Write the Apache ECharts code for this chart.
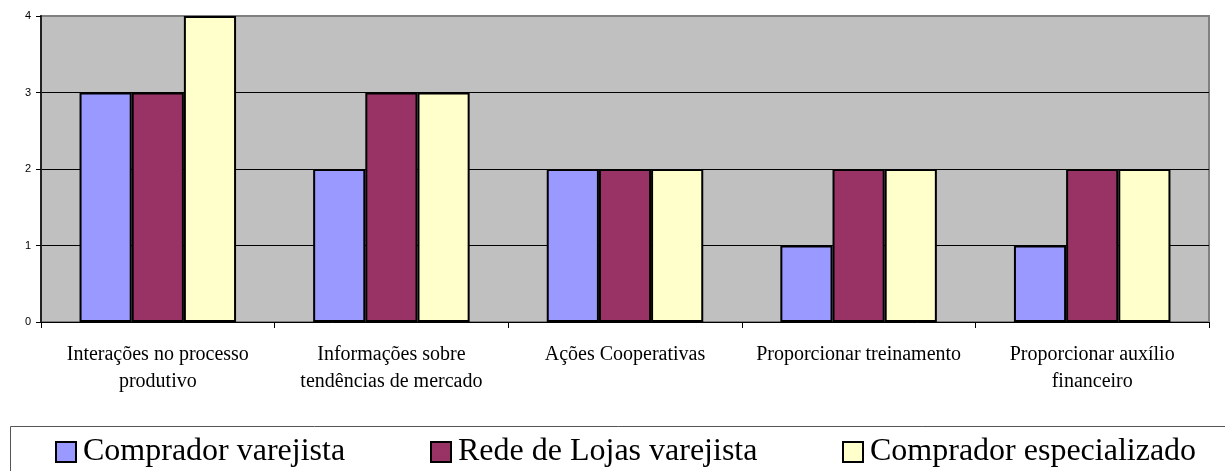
<!DOCTYPE html>
<html>
<head>
<meta charset="utf-8">
<script src="https://cdn.jsdelivr.net/npm/echarts@6/dist/echarts.min.js"></script>
<style>
  html, body { margin: 0; padding: 0; background: #fff; }
  #chart { width: 1225px; height: 471px; }
</style>
</head>
<body>
<div id="chart"></div>
<script>
const categories = [
  'Interações no processo\nprodutivo',
  'Informações sobre\ntendências de mercado',
  'Ações Cooperativas',
  'Proporcionar treinamento',
  'Proporcionar auxílio\nfinanceiro'
]
const seriesNames = ['Comprador varejista', 'Rede de Lojas varejista', 'Comprador especializado']
const compradorVarejista = [3, 2, 2, 1, 1]
const redeLojas = [3, 3, 2, 2, 2]
const compradorEspecializado = [4, 3, 2, 2, 2]
const colors = ['#9999FF', '#993366', '#FFFFCC']

const chart = echarts.init(document.getElementById('chart'))

const serif = "'Liberation Serif', 'Times New Roman', serif"

// one legend per item so each sits where the original puts it
function legendAt(name, left) {
  return {
    data: [name],
    left: left,
    top: 436,
    padding: 0,
    icon: 'rect',
    itemWidth: 20,
    itemHeight: 20,
    itemStyle: { borderColor: '#000', borderWidth: 2 },
    textStyle: { fontFamily: serif, fontSize: 32, color: '#000', padding: [0, 0, 0, 2] }
  }
}

const option = {
  animation: false,
  backgroundColor: '#fff',
  color: colors,
  grid: {
    left: 41,
    right: 16,
    top: 16,
    bottom: 149,
    show: true,
    backgroundColor: '#C0C0C0',
    borderColor: '#808080',
    borderWidth: 2
  },
  legend: [
    legendAt(seriesNames[0], 55),
    legendAt(seriesNames[1], 430),
    legendAt(seriesNames[2], 842)
  ],
  graphic: [{
    type: 'rect',
    silent: true,
    shape: { x: 10.5, y: 426.5, width: 1400, height: 200 },
    style: { fill: 'none', stroke: '#555', lineWidth: 1 }
  }],
  xAxis: {
    type: 'category',
    data: categories,
    axisLine: { lineStyle: { color: '#000', width: 1 } },
    axisTick: { show: true, length: 6, lineStyle: { color: '#000' } },
    axisLabel: {
      fontFamily: serif,
      fontSize: 20,
      lineHeight: 27,
      color: '#000',
      margin: 19,
      interval: 0
    }
  },
  yAxis: {
    type: 'value',
    min: 0,
    max: 4,
    interval: 1,
    axisLine: { show: true, lineStyle: { color: '#222', width: 2 } },
    axisTick: { show: true, length: 5, lineStyle: { color: '#000' } },
    axisLabel: { fontFamily: 'Liberation Sans, Arial, sans-serif', fontSize: 11, color: '#000', margin: 10 },
    splitLine: {
      show: true,
      lineStyle: { color: ['transparent', '#000', '#000', '#000', '#808080'], width: 1 }
    }
  },
  series: [
    { name: seriesNames[0], data: compradorVarejista },
    { name: seriesNames[1], data: redeLojas },
    { name: seriesNames[2], data: compradorEspecializado }
  ].map(s => ({
    type: 'bar',
    name: s.name,
    data: s.data,
    barGap: '0%',
    barCategoryGap: '33%',
    itemStyle: { borderColor: '#000', borderWidth: 2 }
  }))
}

chart.setOption(option)
</script>
</body>
</html>
